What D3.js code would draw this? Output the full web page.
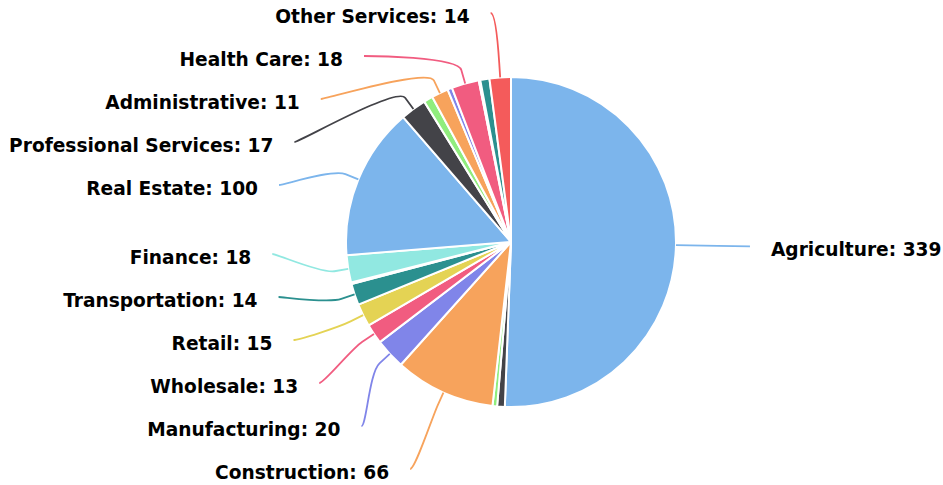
<!DOCTYPE html>
<html>
<head>
<meta charset="utf-8">
<script src="https://cdn.jsdelivr.net/npm/d3@7"></script>
<style>
  html, body { margin: 0; padding: 0; background: #fff; }
  svg { display: block; }
</style>
</head>
<body>
<svg id="chart" width="943" height="485"></svg>
<script>
// Establishments by sector
const sectors = [
  "Agriculture", "Mining", "Utilities", "Construction", "Manufacturing",
  "Wholesale", "Retail", "Transportation", "Information", "Finance",
  "Real Estate", "Professional Services", "Management", "Administrative",
  "Education", "Health Care", "Arts & Recreation", "Accommodation & Food",
  "Other Services"
];
const counts = [339, 5, 3, 66, 20, 13, 15, 14, 1, 18, 100, 17, 6, 11, 3, 18, 1, 6, 14];
const palette = ["#7cb5ec", "#434348", "#90ed7d", "#f7a35c", "#8085e9",
                 "#f15c80", "#e4d354", "#2b908f", "#f45b5b", "#91e8e1"];

const W = 943, H = 485;
const cx = 511, cy = 242, radius = 165;
const labelDistance = 69;          // label ring sits this far outside the pie
const breakOffset = 14;            // connector bend distance outside the rim
const slot = 43;                   // vertical room per label
const labelTop = -8.5, labelBottom = 490.5;
const padding = 5, textGap = 21;

const svg = d3.select("#chart");
const g = svg.append("g");

const data = sectors.map((name, i) => ({ name, value: counts[i], index: i }));
const pie = d3.pie().value(d => d.value).sort(null).startAngle(0).endAngle(2 * Math.PI);
const arcs = pie(data);
const arc = d3.arc().innerRadius(0).outerRadius(radius);
const color = i => palette[i % palette.length];

// Slices
g.selectAll("path.slice")
  .data(arcs)
  .join("path")
  .attr("class", "slice")
  .attr("transform", `translate(${cx},${cy})`)
  .attr("d", arc)
  .attr("fill", d => color(d.data.index))
  .attr("stroke", "#fff")
  .attr("stroke-width", 2)
  .attr("stroke-linejoin", "round");

// Label geometry
const R = radius + labelDistance;
arcs.forEach(a => {
  const mid = (a.startAngle + a.endAngle) / 2;
  a.mid = mid;
  a.left = mid > Math.PI;
  a.naturalY = cy - R * Math.cos(mid);
  a.target = a.naturalY - labelTop;
  a.rank = a.data.value;
});

// Spread labels vertically, dropping the smallest when space runs out
function distribute(items, len, size) {
  let boxes = items.map((d, i) => ({ d, target: d.target, rank: d.rank, size, idx: i }));
  boxes.sort((a, b) => (b.rank - a.rank) || (a.idx - b.idx));
  let total = boxes.length * size;
  while (total > len) { boxes.pop(); total -= size; }
  boxes.sort((a, b) => a.target - b.target);
  const groups = boxes.map(b => ({ size: b.size, targets: [b.target], members: [b], align: 0.5 }));
  let overlapping = true;
  while (overlapping) {
    groups.forEach(gr => {
      const t = (d3.min(gr.targets) + d3.max(gr.targets)) / 2;
      gr.pos = Math.max(0, Math.min(t - gr.size * gr.align, len - gr.size));
    });
    overlapping = false;
    for (let i = groups.length - 1; i > 0; i--) {
      const a = groups[i - 1], b = groups[i];
      if (a.pos + a.size > b.pos) {
        a.size += b.size;
        a.targets = a.targets.concat(b.targets);
        a.members = a.members.concat(b.members);
        if (a.pos + a.size > len) a.pos = len - a.size;
        groups.splice(i, 1);
        overlapping = true;
      }
    }
  }
  groups.forEach(gr => {
    let p = gr.pos;
    gr.members.forEach(m => { m.d.pos = p + m.size / 2; p += m.size; });
  });
  return boxes.map(b => b.d);
}

const len = labelBottom - labelTop;
const shown = [];
[true, false].forEach(side => {
  const items = arcs.filter(a => a.left === side);
  distribute(items, len, slot).forEach(a => shown.push(a));
});

function getX(y, left) {
  const s = Math.max(-1, Math.min(1, (y - cy) / R));
  return cx + (left ? -1 : 1) * (Math.cos(Math.asin(s)) * R + padding);
}

shown.forEach(a => {
  const y = labelTop + a.pos;
  const extreme = y <= labelTop + slot / 2 + 2 || y >= labelBottom - slot / 2 - 2;
  a.ly = y;
  a.lx = getX(extreme ? a.naturalY : y, a.left);
  const s = Math.sin(a.mid), c = Math.cos(a.mid);
  a.touch = [cx + radius * s, cy - radius * c];
  a.brk = [cx + (radius + breakOffset) * s, cy - (radius + breakOffset) * c];
});

// Connectors
g.selectAll("path.connector")
  .data(shown)
  .join("path")
  .attr("class", "connector")
  .attr("fill", "none")
  .attr("stroke", d => color(d.data.index))
  .attr("stroke-width", 1.8)
  .attr("d", d => {
    const p = d3.path();
    p.moveTo(d.lx, d.ly);
    p.bezierCurveTo(
      d.lx + (d.left ? 5 : -5), d.ly,
      2 * d.brk[0] - d.touch[0], 2 * d.brk[1] - d.touch[1],
      d.brk[0], d.brk[1]);
    p.lineTo(d.touch[0], d.touch[1]);
    return p.toString();
  });

// Labels
g.selectAll("text.label")
  .data(shown)
  .join("text")
  .attr("class", "label")
  .attr("x", d => d.left ? d.lx - textGap : d.lx + textGap)
  .attr("y", d => d.ly + 3)
  .attr("dominant-baseline", "central")
  .attr("text-anchor", d => d.left ? "end" : "start")
  .attr("font-family", "'DejaVu Sans', Verdana, sans-serif")
  .attr("font-weight", "bold")
  .attr("font-size", 18.6)
  .attr("fill", "#000")
  .text(d => `${d.data.name}: ${d.data.value}`);
</script>
</body>
</html>
